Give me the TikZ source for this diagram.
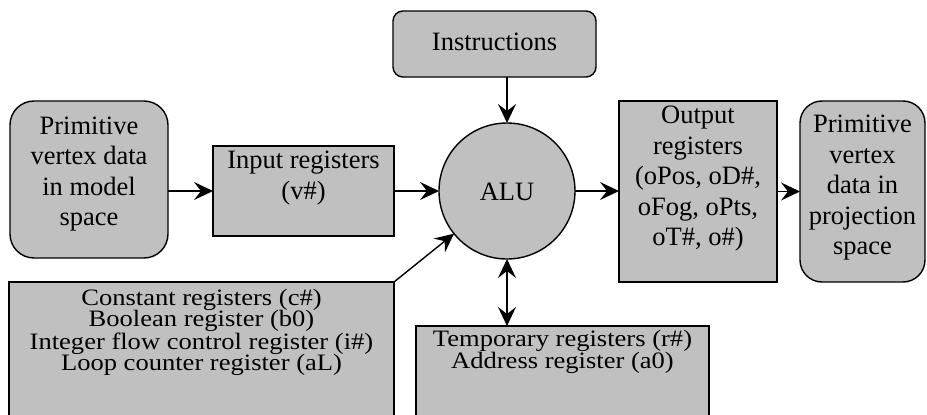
\documentclass[tikz,border=0pt]{standalone}
\usepackage{fontspec}
\setmainfont{Liberation Serif}
\newfontfamily\widefont{Liberation Serif}[FakeStretch=1.13]
\usetikzlibrary{arrows.meta}
\definecolor{boxfill}{RGB}{192,192,192}
\tikzset{
  panel/.style={draw=black, fill=boxfill, line width=1.4pt, inner sep=0pt, outer sep=0pt, anchor=north west},
  roundpanel/.style={panel, rounded corners=#1},
  bigtext/.style={align=center, inner sep=0pt, font=\fontsize{26.5}{30.5}\selectfont},
  smalltext/.style={align=center, inner sep=0pt, font=\widefont\fontsize{23.5}{#1}\selectfont},
  tip/.tip={Stealth[length=19pt,width=18pt,inset=7pt]},
  conn/.style={line width=1.4pt, -tip},
  bothways/.style={line width=1.4pt, tip-tip}
}
\begin{document}
\begin{tikzpicture}[x=1pt,y=-1pt]
  \useasboundingbox (0,0) rectangle (927,415);
  \clip (0,0) rectangle (927,415);

  % shapes
  \node[roundpanel=24pt, minimum width=158pt, minimum height=157pt] (modelbox) at (10,101) {};
  \node[panel, minimum width=181pt, minimum height=90pt] (input) at (213,146) {};
  \node[roundpanel=10pt, minimum width=203pt, minimum height=66pt] (instr) at (393,11) {};
  \node[draw=black, fill=boxfill, line width=1.4pt, circle, minimum size=136pt, inner sep=0pt, outer sep=0pt] (alu) at (507,191) {};
  \node[panel, minimum width=158pt, minimum height=181pt] (output) at (619,101) {};
  \node[roundpanel=22pt, minimum width=125pt, minimum height=181pt] (projbox) at (800,101) {};
  \node[panel, minimum width=385pt, minimum height=150pt] (const) at (9,282) {};
  \node[panel, minimum width=293pt, minimum height=120pt] (temp) at (416,326) {};

  % labels
  \node[bigtext] (modeltxt) at (89,174) {Primitive\\vertex data\\in model\\space};
  \node[bigtext] (inputtxt) at (303.5,178) {Input registers\\(v\#)};
  \node[bigtext] (instrtxt) at (494.5,42) {Instructions};
  \node[bigtext] (alutxt) at (507,192) {ALU};
  \node[bigtext] (outputtxt) at (698,179) {Output\\registers\\(oPos, oD\#,\\oFog, oPts,\\oT\#, o\#)};
  \node[bigtext] (projtxt) at (862.5,188) {Primitive\\vertex\\data in\\projection\\space};
  \node[smalltext=21.5] (consttxt) at (201.5,332.5) {Constant registers (c\#)\\Boolean register (b0)\\Integer flow control register (i\#)\\Loop counter register (aL)};
  \node[smalltext=20] (temptxt) at (562.5,352) {Temporary registers (r\#)\\Address register (a0)};

  % connectors
  \draw[conn] (modelbox.east |- input.west) -- (input.west);
  \draw[conn] (input.east) -- (alu);
  \draw[conn] (instr.south -| alu) -- (alu.north);
  \draw[conn] (alu.east) -- (output.west |- alu.east);
  \draw[conn] (output.east) -- (projbox.west);
  \draw[conn] (const.north east) -- (alu);
  \draw[bothways] (alu.south) -- (alu.south |- temp.north);
\end{tikzpicture}
\end{document}
